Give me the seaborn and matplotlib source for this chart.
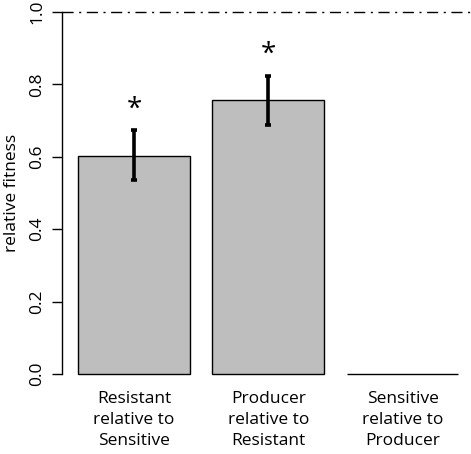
import pandas as pd
import matplotlib
matplotlib.use("Agg")
import matplotlib.pyplot as plt
import seaborn as sns

# values
labels = ["Resistant\nrelative to\nSensitive",
          "Producer\nrelative to\nResistant",
          "Sensitive\nrelative to\nProducer"]
fitness = [0.603, 0.757, 0.0]
err_low = [0.535, 0.689, 0.0]
err_high = [0.673, 0.824, 0.0]
signif = ["*", "*", ""]

df = pd.DataFrame({"comparison": labels, "fitness": fitness})

sns.set_style("ticks")
plt.rcParams["font.family"] = ["Open Sans", "DejaVu Sans"]
for key in ["text.color", "axes.labelcolor", "xtick.color", "ytick.color",
            "axes.edgecolor"]:
    plt.rcParams[key] = "black"

fig = plt.figure(figsize=(4.71, 4.54), dpi=100)
ax = fig.add_axes([62 / 471, 1 - 374 / 454, 1 - 62 / 471, (374 - 12) / 454])

sns.barplot(data=df, x="comparison", y="fitness", color="#BEBEBE",
            saturation=1, width=0.833, edgecolor="black", linewidth=1.0,
            errorbar=None, ax=ax)
for p in ax.patches:
    p.set_clip_on(False)

# error bars and significance stars
for i, (m, lo, hi, s) in enumerate(zip(fitness, err_low, err_high, signif)):
    if hi > lo:
        ax.errorbar(i, m, yerr=[[m - lo], [hi - m]], fmt="none",
                    ecolor="black", elinewidth=2.6, capsize=2.5,
                    capthick=2.6)
    if s:
        ax.text(i, hi + 0.018, s, ha="center", va="bottom", fontsize=20)

# reference line at 1
ax.axhline(1.0, color="black", linestyle=(0, (8, 4, 1.5, 4)), linewidth=1.0,
           clip_on=False)

ax.set_xlim(-0.536, 2.51)
ax.set_ylim(0, 1.0)
ax.set_yticks([0, 0.2, 0.4, 0.6, 0.8, 1.0])
ax.set_yticklabels(["0.0", "0.2", "0.4", "0.6", "0.8", "1.0"], rotation=90,
                   va="center", fontsize=12.5)
ax.tick_params(axis="y", length=7, width=1, pad=5)
ax.tick_params(axis="x", length=0, pad=12, labelsize=12.5)
for lbl in ax.get_xticklabels():
    lbl.set_linespacing(1.45)
ax.set_xlabel("")
ax.set_ylabel("relative fitness", fontsize=12.5, labelpad=7)

for side in ["top", "right", "bottom"]:
    ax.spines[side].set_visible(False)
ax.spines["left"].set_linewidth(1.0)
ax.patch.set_alpha(0)

fig.savefig("out.png", dpi=100)
